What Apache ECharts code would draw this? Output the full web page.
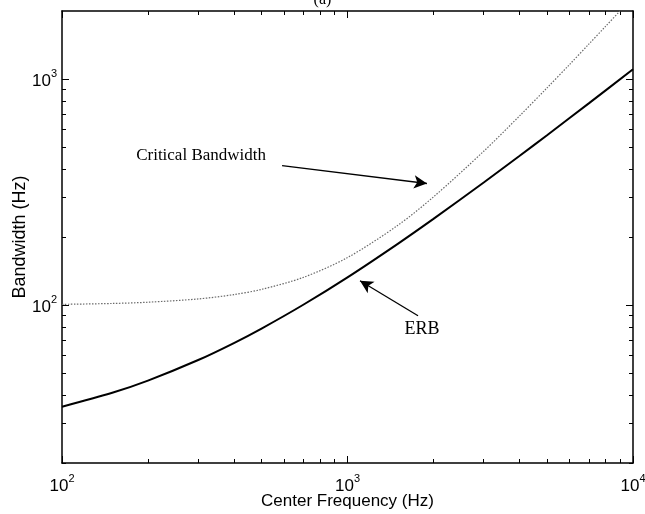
<!DOCTYPE html>
<html>
<head>
<meta charset="utf-8">
<script src="https://cdn.jsdelivr.net/npm/echarts@6/dist/echarts.min.js"></script>
<style>html,body{margin:0;padding:0;background:#fff}#c{width:645px;height:514px}</style>
</head>
<body>
<div id="c"></div>
<script>
// Data
const erbFreq = [100, 150, 200, 300, 400, 500, 700, 1000, 1500, 2000, 3000, 4000, 5000, 7000, 10000];
const erbBw   = [35.5, 40.9, 46.3, 57.1, 67.9, 78.7, 100.3, 132.6, 186.6, 240.6, 348.5, 456.5, 564.4, 780.3, 1104];
const cbFreq  = [100, 150, 200, 300, 400, 500, 700, 1000, 1500, 2000, 3000, 4000, 5000, 6000, 7000, 8000, 9000, 10000];
const cbBw    = [100.7, 101.6, 102.9, 106.4, 111.2, 117.3, 132.5, 162.2, 225.2, 300.8, 479.2, 685.5, 914, 1161, 1426, 1706, 1999, 2306];
const xMajorTicks = [100, 1000, 10000];
const xMinorTicks = [200, 300, 400, 500, 600, 700, 800, 900, 2000, 3000, 4000, 5000, 6000, 7000, 8000, 9000];
const yMajorTicks = [100, 1000];
const yMinorTicks = [20, 30, 40, 50, 60, 70, 80, 90, 200, 300, 400, 500, 600, 700, 800, 900];
// annotation anchors in data space [frequency, bandwidth]
const cbArrow  = [[590, 414], [1898, 345]];
const erbArrow = [[1766, 89.7], [1106, 128]];
const cbText   = [[307, 459], 'Critical Bandwidth'];
const erbText  = [[1824, 78], 'ERB'];

const chart = echarts.init(document.getElementById('c'), null, {renderer: 'canvas'});
const AX = '#000';
const rich = {
  b: {fontSize: 17, fontFamily: 'Liberation Sans', color: '#000', verticalAlign: 'bottom', lineHeight: 22},
  s: {fontSize: 11, fontFamily: 'Liberation Sans', color: '#000', verticalAlign: 'top', lineHeight: 22}
};
function xAx(pos, major, showLine, withLabel) {
  return {
    type: 'log', logBase: 10, min: 100, max: 10000, position: pos,
    axisLine: {show: showLine, lineStyle: {color: AX, width: 1.5}},
    axisTick: {show: true, inside: true, length: major ? 7 : 4, customValues: major ? xMajorTicks : xMinorTicks, lineStyle: {color: AX, width: 1}},
    axisLabel: withLabel ? {show: true, customValues: xMajorTicks, formatter: v => '{b|10}{s|' + Math.round(Math.log10(v)) + '}', rich: rich, margin: 10} : {show: false},
    splitLine: {show: false}, minorTick: {show: false},
    name: withLabel ? 'Center Frequency (Hz)' : '', nameLocation: 'middle', nameGap: 30, nameMoveOverlap: false,
    nameTextStyle: {fontFamily: 'Liberation Sans', fontSize: 17, color: '#000'}
  };
}
function yAx(pos, major, showLine, withLabel) {
  return {
    type: 'log', logBase: 10, min: 20, max: 2000, position: pos,
    axisLine: {show: showLine, lineStyle: {color: AX, width: 1.5}},
    axisTick: {show: true, inside: true, length: major ? 7 : 4, customValues: major ? yMajorTicks : yMinorTicks, lineStyle: {color: AX, width: 1}},
    axisLabel: withLabel ? {show: true, customValues: yMajorTicks, formatter: v => '{b|10}{s|' + Math.round(Math.log10(v)) + '}', rich: rich, margin: 5} : {show: false},
    splitLine: {show: false}, minorTick: {show: false},
    name: withLabel ? 'Bandwidth (Hz)' : '', nameLocation: 'middle', nameGap: 33, nameMoveOverlap: false,
    nameTextStyle: {fontFamily: 'Liberation Sans', fontSize: 18, color: '#000'}
  };
}

chart.setOption({
  animation: false,
  backgroundColor: '#fff',
  grid: {left: 62, right: 12, top: 11, bottom: 51, outerBoundsMode: 'none', containLabel: false},
  title: {text: '(a)', left: 'center', top: -13, textStyle: {fontFamily: 'Liberation Serif', fontSize: 16, fontWeight: 'normal', color: '#000'}},
  xAxis: [xAx('bottom', true, true, true), xAx('bottom', false, false, false), xAx('top', true, true, false), xAx('top', false, false, false)],
  yAxis: [yAx('left', true, true, true), yAx('left', false, false, false), yAx('right', true, true, false), yAx('right', false, false, false)],
  series: [
    {
      name: 'Critical Bandwidth', type: 'line', xAxisIndex: 0, yAxisIndex: 0,
      data: cbFreq.map((f, i) => [f, cbBw[i]]), smooth: 0.3, showSymbol: false, clip: true,
      lineStyle: {color: '#6a6a6a', width: 1.2, type: [1.5, 1.5]},
      markLine: {
        silent: true, symbol: ['none', 'arrow'], symbolSize: [10, 13], label: {show: false},
        lineStyle: {color: '#000', width: 1.3, type: 'solid'},
        data: [
          [{coord: cbArrow[0]}, {coord: cbArrow[1]}],
          [{coord: erbArrow[0]}, {coord: erbArrow[1]}]
        ]
      },
      markPoint: {
        silent: true, symbol: 'circle', symbolSize: 0,
        data: [
          {coord: cbText[0], label: {show: true, formatter: cbText[1], position: 'inside', fontFamily: 'Liberation Serif', fontSize: 17, color: '#000'}},
          {coord: erbText[0], label: {show: true, formatter: erbText[1], position: 'inside', fontFamily: 'Liberation Serif', fontSize: 18, color: '#000'}}
        ]
      }
    },
    {
      name: 'ERB', type: 'line', xAxisIndex: 0, yAxisIndex: 0,
      data: erbFreq.map((f, i) => [f, erbBw[i]]), smooth: 0.3, showSymbol: false, clip: true,
      lineStyle: {color: '#000', width: 2}
    }
  ]
});
</script>
</body>
</html>
